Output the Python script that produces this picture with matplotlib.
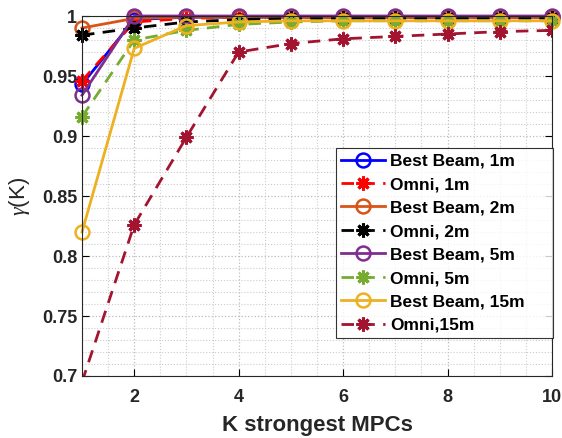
import matplotlib
matplotlib.use("Agg")
import matplotlib.pyplot as plt
import numpy as np

plt.rcParams['font.family'] = ['Liberation Sans', 'DejaVu Sans']
plt.rcParams['mathtext.fontset'] = 'custom'
plt.rcParams['mathtext.it'] = 'Liberation Serif:italic'

K = [1, 2, 3, 4, 5, 6, 7, 8, 9, 10]
bb_1m = [0.943, 0.997, 0.999, 0.999, 0.999, 0.999, 0.999, 0.999, 0.999, 0.999]
omni_1m = [0.946, 0.995, 0.998, 0.999, 0.999, 0.999, 0.999, 0.999, 0.999, 0.999]
bb_2m = [0.990, 0.998, 0.999, 0.999, 0.999, 0.999, 0.999, 0.999, 0.999, 0.999]
omni_2m = [0.984, 0.990, 0.995, 0.997, 0.998, 0.998, 0.998, 0.998, 0.998, 0.998]
bb_5m = [0.934, 1.000, 1.000, 1.000, 1.000, 1.000, 1.000, 1.000, 1.000, 1.000]
omni_5m = [0.916, 0.980, 0.988, 0.993, 0.995, 0.996, 0.996, 0.996, 0.996, 0.996]
bb_15m = [0.820, 0.973, 0.992, 0.995, 0.996, 0.996, 0.996, 0.996, 0.996, 0.996]
omni_15m = [0.695, 0.826, 0.899, 0.970, 0.977, 0.981, 0.983, 0.985, 0.987, 0.988]

series = [
    ("Best Beam, 1m", bb_1m, "#0000ff", "-", "o"),
    ("Omni, 1m", omni_1m, "#ff0000", "--", "*"),
    ("Best Beam, 2m", bb_2m, "#d95319", "-", "o"),
    ("Omni, 2m", omni_2m, "#000000", "--", "*"),
    ("Best Beam, 5m", bb_5m, "#7e2f8e", "-", "o"),
    ("Omni, 5m", omni_5m, "#77ac30", "--", "*"),
    ("Best Beam, 15m", bb_15m, "#edb120", "-", "o"),
    ("Omni,15m", omni_15m, "#a2142f", "--", "*"),
]

TXT = "#262626"

fig = plt.figure(figsize=(5.62, 4.38), dpi=100)
ax = fig.add_axes([82/562, 1-376/438, 470/562, 360/438])

for label, vals, color, ls, mk in series:
    clip = min(vals) < 0.7
    if mk == "o":
        ax.plot(K, vals, ls, color=color, lw=2, marker="o", markersize=10,
                markerfacecolor="none", markeredgewidth=1.8, label=label,
                clip_on=clip)
    else:
        ax.plot(K, vals, ls, color=color, lw=2, marker=(8, 2, 0), markersize=10,
                markeredgewidth=2.2, label=label, dashes=(4.5, 3),
                clip_on=clip)

ax.set_xlim(1, 10)
ax.set_ylim(0.7, 1.0)
ax.set_xticks([2, 4, 6, 8, 10])
ax.set_yticks([0.7, 0.75, 0.8, 0.85, 0.9, 0.95, 1.0])
ax.set_yticklabels(["0.7", "0.75", "0.8", "0.85", "0.9", "0.95", "1"])
ax.set_xticks(np.arange(1, 10.01, 0.5), minor=True)
ax.set_yticks(np.arange(0.7, 1.0001, 0.01), minor=True)
ax.grid(True, which="major", color="#bbbbbb", ls=":", lw=0.9)
ax.grid(True, which="minor", color="#cccccc", ls=":", lw=0.8)
ax.tick_params(which="major", direction="in", top=True, right=True, length=5,
               labelsize=13, width=0.8, labelcolor=TXT)
ax.tick_params(axis="x", which="major", pad=9)
ax.tick_params(which="minor", length=0)
for lab in ax.get_xticklabels() + ax.get_yticklabels():
    lab.set_fontweight("bold")
for s in ax.spines.values():
    s.set_linewidth(0.8)
    s.set_color(TXT)

ax.set_xlabel("K strongest MPCs", fontsize=16, fontweight="bold", labelpad=7,
              color=TXT)
ax.set_ylabel(r"$\gamma$(K)", fontsize=16, labelpad=7, color=TXT)

leg = ax.legend(loc="lower left", bbox_to_anchor=(254/470, 0.105, 217/470, 0.5),
                mode="expand",
                prop={"weight": "bold", "size": 12.5}, frameon=True, fancybox=False,
                edgecolor="black", handlelength=2.5, borderpad=0.3,
                labelspacing=0.48, handletextpad=0.3, borderaxespad=0.0)
leg.get_frame().set_linewidth(0.8)
leg.set_zorder(5)

fig.savefig("out.png", dpi=100)
